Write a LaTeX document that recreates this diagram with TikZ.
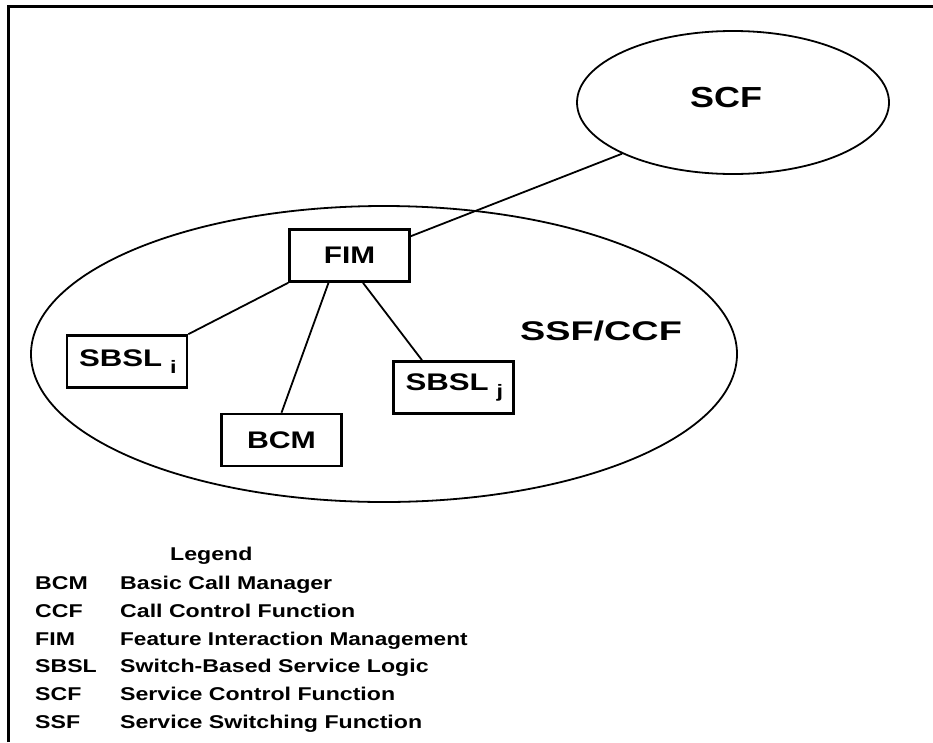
\documentclass[tikz,border=0pt]{standalone}
\usepackage{fontspec}
\setmainfont{Liberation Sans}
\usetikzlibrary{shapes.geometric}
\newcommand{\hsc}[2]{\scalebox{#1}[1]{#2}}
\newcommand{\subidx}[1]{\hspace{6pt}\raisebox{-7pt}{\fontsize{18}{20}\selectfont #1}}
\begin{document}
\begin{tikzpicture}[x=1pt,y=-1pt,
  frame/.style={line width=3pt, line join=miter},
  oval/.style={draw, ellipse, line width=1.8pt, inner sep=0pt},
  box/.style={draw, line width=2.6pt, minimum width=120pt, minimum height=52pt,
    inner sep=0pt, font=\fontsize{24}{28}\selectfont\bfseries},
  wbox/.style={box, text width=96pt, inner xsep=11pt, align=left},
  conn/.style={line width=1.8pt},
  big/.style={font=\fontsize{29}{34}\selectfont\bfseries, inner sep=0pt},
  leg/.style={font=\fontsize{18.5}{22}\selectfont\bfseries, inner sep=0pt, anchor=base west}
]
\useasboundingbox (0,0) rectangle (933,742);
% frame
\draw[frame] (8,742) -- (8,6.5) -- (933,6.5);

% ellipses
\node[oval, minimum width=312pt, minimum height=143pt] (scf) at (733,102.5) {};
\node[big] (scftext) at (726,97.5) {\hsc{1.24}{SCF}};
\node[oval, minimum width=706pt, minimum height=296pt] (ssf) at (384,354) {};
\node[big, font=\fontsize{27}{32}\selectfont\bfseries] (ssftext) at (601,331) {\hsc{1.4}{SSF/CCF}};

% boxes
\node[box] (fim) at (349.5,255.5) {\hsc{1.24}{FIM}};
\node[wbox] (sbsli) at (127,361.5) {\hsc{1.3}{SBSL\subidx{i}}};
\node[box] (bcm) at (281.5,440) {\hsc{1.26}{BCM}};
\node[wbox] (sbslj) at (453.5,387.5) {\hsc{1.3}{SBSL\subidx{j}}};

% connectors
\draw[conn] ([yshift=-8pt]fim.north east) -- (scf.south west);
\draw[conn] (fim.south west) -- (sbsli.north east);
\draw[conn] ([xshift=-21pt]fim.south) -- (bcm.north);
\draw[conn] ([xshift=13.5pt]fim.south) -- ([xshift=-31.5pt]sbslj.north);

% legend
\node[leg] (legtitle) at (170,560) {\hsc{1.25}{Legend}};
\node[leg] (a1) at (35,589.5) {\hsc{1.25}{BCM}};
\node[leg] (d1) at (120,589.5) {\hsc{1.25}{Basic Call Manager}};
\node[leg] (a2) at (35,617.3) {\hsc{1.25}{CCF}};
\node[leg] (d2) at (120,617.3) {\hsc{1.25}{Call Control Function}};
\node[leg] (a3) at (35,645.1) {\hsc{1.25}{FIM}};
\node[leg] (d3) at (120,645.1) {\hsc{1.22}{Feature Interaction Management}};
\node[leg] (a4) at (35,672.9) {\hsc{1.25}{SBSL}};
\node[leg] (d4) at (120,672.9) {\hsc{1.25}{Switch-Based Service Logic}};
\node[leg] (a5) at (35,700.7) {\hsc{1.25}{SCF}};
\node[leg] (d5) at (120,700.7) {\hsc{1.25}{Service Control Function}};
\node[leg] (a6) at (35,728.5) {\hsc{1.25}{SSF}};
\node[leg] (d6) at (120,728.5) {\hsc{1.25}{Service Switching Function}};
\end{tikzpicture}
\end{document}
